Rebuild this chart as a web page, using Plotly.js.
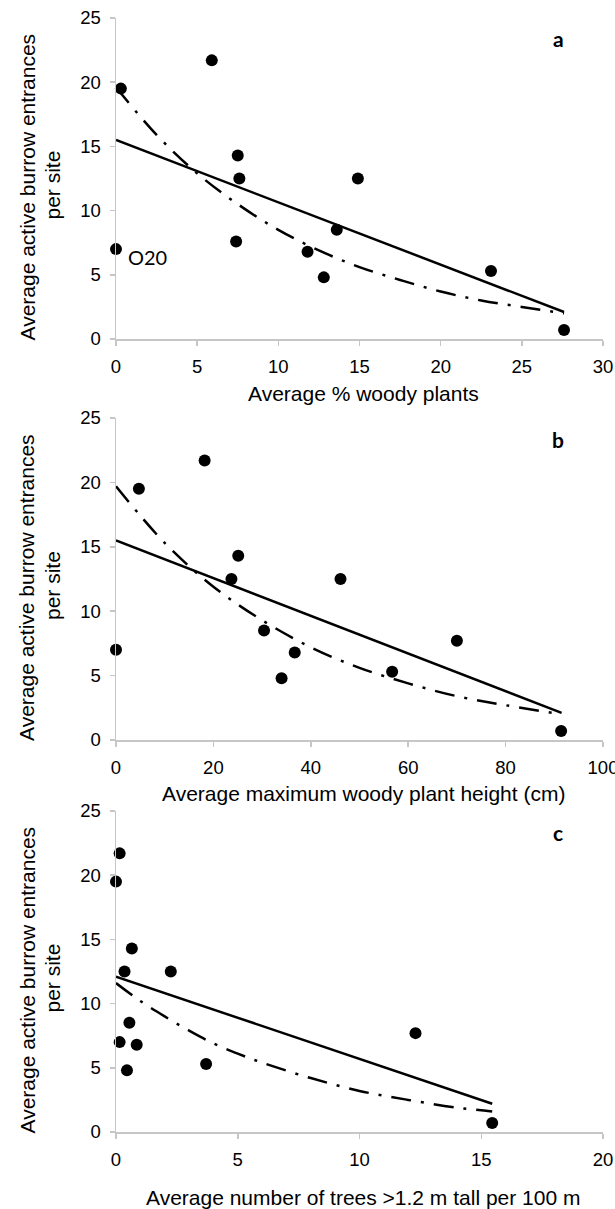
<!DOCTYPE html>
<html>
<head>
<meta charset="utf-8">
<script src="https://cdn.plot.ly/plotly-3.0.1.min.js"></script>
<style>html,body{margin:0;padding:0;background:#fff;}#chart{width:615px;height:1209px;}</style>
</head>
<body>
<div id="chart"></div>
<script>
// ---- Data ----
// Panel a: average % woody plants
const woodyPct  = [0, 0.3, 5.9, 7.5, 7.6, 7.4, 14.9, 13.6, 11.8, 12.8, 23.1, 27.6];
const burrowsA  = [7.0, 19.5, 21.7, 14.3, 12.5, 7.6, 12.5, 8.5, 6.8, 4.8, 5.3, 0.7];
const linA_x = [0, 27.6];
const linA_y = [15.5, 2.1];
const expA_x = [0, 2.5, 5, 7.5, 10, 12.5, 15, 17.5, 20, 22.5, 25, 27.6];
const expA_y = [19.6, 15.9, 12.9, 10.5, 8.5, 6.9, 5.6, 4.6, 3.7, 3.0, 2.5, 2.0];

// Panel b: average maximum woody plant height (cm)
const maxHeight = [0, 4.7, 18.2, 25.1, 23.7, 46.1, 30.4, 36.7, 34.0, 56.7, 70.0, 91.4];
const burrowsB  = [7.0, 19.5, 21.7, 14.3, 12.5, 12.5, 8.5, 6.8, 4.8, 5.3, 7.7, 0.7];
const linB_x = [0, 91.5];
const linB_y = [15.5, 2.1];
const expB_x = [0, 10, 20, 30, 40, 50, 60, 70, 80, 91.5];
const expB_y = [19.7, 15.3, 11.9, 9.3, 7.2, 5.6, 4.4, 3.4, 2.7, 2.0];

// Panel c: average number of trees >1.2 m tall per 100 m
const treesPer100m = [0, 0.15, 0.65, 0.35, 2.25, 0.55, 0.15, 0.85, 0.45, 3.7, 12.3, 15.45];
const burrowsC     = [19.5, 21.7, 14.3, 12.5, 12.5, 8.5, 7.0, 6.8, 4.8, 5.3, 7.7, 0.7];
const linC_x = [0, 15.45];
const linC_y = [12.1, 2.2];
const expC_x = [0, 1, 2, 3, 4, 5, 6, 8, 10, 12, 14, 15.45];
const expC_y = [11.6, 10.2, 9.0, 7.9, 6.9, 6.1, 5.4, 4.2, 3.2, 2.5, 1.9, 1.6];

const xTitles = ["Average % woody plants", "Average maximum woody plant height (cm)", "Average number of trees >1.2 m tall per 100 m"];
const yTitle1 = "Average active burrow entrances";
const yTitle2 = "per site";
const panelLetters = ["a", "b", "c"];

// ---- Styling ----
const W = 615, H = 1209;
const px = v => v / W;
const py = v => 1 - v / H;
const AX = '#c6c6c6';
const FAM = '"Liberation Sans", Arial, sans-serif';
const tickFont = {family: FAM, size: 18.5, color: '#000'};
const titleFont = {family: FAM, size: 21, color: '#000'};
const letterFont = {family: 'Lato, sans-serif', size: 21, color: '#000', weight: 700};
const dashDot = '20px,10px,3px,10px';

function axis(range, dtick, domain, anchor, standoff) {
  return {
    range: range, dtick: dtick, tick0: 0, domain: domain, anchor: anchor,
    showgrid: false, zeroline: false, showline: true, linecolor: AX, linewidth: 1.5,
    ticks: 'outside', ticklen: 5, tickcolor: AX, tickwidth: 1.5,
    tickfont: tickFont, fixedrange: true, ticklabeloverflow: 'allow',
    ticklabelstandoff: standoff
  };
}

const panels = [
  {xs: woodyPct, ys: burrowsA, lx: linA_x, ly: linA_y, ex: expA_x, ey: expA_y, xr: [0, 30], xd: 5, top: 18, bot: 339},
  {xs: maxHeight, ys: burrowsB, lx: linB_x, ly: linB_y, ex: expB_x, ey: expB_y, xr: [0, 100], xd: 20, top: 418, bot: 740},
  {xs: treesPer100m, ys: burrowsC, lx: linC_x, ly: linC_y, ex: expC_x, ey: expC_y, xr: [0, 20], xd: 5, top: 811, bot: 1132}
];

const traces = [];
const layout = {
  width: W, height: H, margin: {l: 0, r: 0, t: 0, b: 0},
  paper_bgcolor: '#fff', plot_bgcolor: '#fff', showlegend: false,
  annotations: []
};

const xLeft = 116, xRight = 603;
const xTitleOffset = [54, 53, 65];

panels.forEach((p, i) => {
  const n = i === 0 ? '' : String(i + 1);
  const xa = 'x' + n, ya = 'y' + n;
  layout['xaxis' + n] = axis(p.xr, p.xd, [px(xLeft), px(xRight)], ya, 5);
  layout['yaxis' + n] = axis([0, 25], 5, [py(p.bot), py(p.top)], xa, 5);

  traces.push({x: p.ex, y: p.ey, xaxis: xa, yaxis: ya, mode: 'lines', type: 'scatter',
    line: {color: '#000', width: 2.5, dash: dashDot, shape: 'spline'}, cliponaxis: false, hoverinfo: 'skip'});
  traces.push({x: p.lx, y: p.ly, xaxis: xa, yaxis: ya, mode: 'lines', type: 'scatter',
    line: {color: '#000', width: 2.5}, cliponaxis: false, hoverinfo: 'skip'});
  traces.push({x: p.xs, y: p.ys, xaxis: xa, yaxis: ya, mode: 'markers', type: 'scatter',
    marker: {color: '#000', size: 12}, cliponaxis: false});

  const mid = (p.top + p.bot) / 2 + 8;
  layout.annotations.push({xref: 'paper', yref: 'paper', x: px(27), y: py(mid + 1), text: yTitle1,
    textangle: -90, showarrow: false, font: titleFont, xanchor: 'center', yanchor: 'middle'});
  layout.annotations.push({xref: 'paper', yref: 'paper', x: px(52), y: py(mid - 1), text: yTitle2,
    textangle: -90, showarrow: false, font: titleFont, xanchor: 'center', yanchor: 'middle'});
  layout.annotations.push({xref: 'paper', yref: 'paper', x: px(363), y: py(p.bot + xTitleOffset[i]), text: xTitles[i],
    showarrow: false, font: titleFont, xanchor: 'center', yanchor: 'middle'});
  layout.annotations.push({xref: 'paper', yref: 'paper', x: px(558), y: py(p.top + 21), text: '<b>' + panelLetters[i] + '</b>',
    showarrow: false, font: letterFont, xanchor: 'center', yanchor: 'middle'});
});

layout.annotations.push({xref: 'x', yref: 'y', x: 0.6, y: 6.4, text: 'O20', showarrow: false,
  font: {family: 'Lato, sans-serif', size: 20, color: '#000'}, xanchor: 'left', yanchor: 'middle'});

Plotly.newPlot('chart', traces, layout, {staticPlot: true, displayModeBar: false});
</script>
</body>
</html>
